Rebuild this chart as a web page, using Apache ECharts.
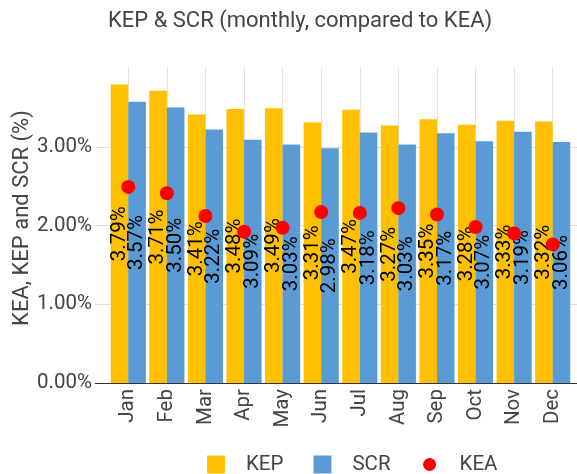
<!DOCTYPE html>
<html>
<head>
<meta charset="utf-8">
<script src="https://cdn.jsdelivr.net/npm/echarts@6/dist/echarts.min.js"></script>
<style>
  html, body { margin: 0; padding: 0; background: #fff; }
  #chart { width: 577px; height: 474px; }
</style>
</head>
<body>
<div id="chart"></div>
<script>
var months = ['Jan', 'Feb', 'Mar', 'Apr', 'May', 'Jun', 'Jul', 'Aug', 'Sep', 'Oct', 'Nov', 'Dec']
var kep = [3.79, 3.71, 3.41, 3.48, 3.49, 3.31, 3.47, 3.27, 3.35, 3.28, 3.33, 3.32]
var scr = [3.57, 3.50, 3.22, 3.09, 3.03, 2.98, 3.18, 3.03, 3.17, 3.07, 3.19, 3.06]
var kea = [2.49, 2.41, 2.12, 1.92, 1.97, 2.17, 2.16, 2.22, 2.14, 1.98, 1.90, 1.76]

var font = 'Roboto'
var yMax = 4

// half-step slots so the vertical grid lines land on the month centres
var slots = []
for (var i = 0; i <= months.length * 2; i++) slots.push('')

var chart = echarts.init(document.getElementById('chart'))

function pct(v) {
  return v.toFixed(2) + '%'
}

var barLabel = {
  show: true,
  position: 'inside',
  rotate: 90,
  color: '#000',
  fontFamily: font,
  fontSize: 20.5,
  formatter: function (p) { return pct(p.value) }
}

chart.setOption({
  animation: false,
  textStyle: {fontFamily: font},
  title: {
    text: 'KEP & SCR (monthly, compared to KEA)',
    left: 103,
    top: 5,
    textStyle: {fontFamily: font, fontSize: 22, fontWeight: 'normal', color: '#444'}
  },
  graphic: [{
    type: 'text',
    x: 22,
    y: 218,
    rotation: Math.PI / 2,
    style: {
      text: 'KEA, KEP and SCR (%)',
      font: '22px Roboto',
      fill: '#444',
      textAlign: 'center',
      textVerticalAlign: 'middle'
    }
  }],
  legend: {
    left: 202,
    top: 449,
    itemWidth: 18,
    itemHeight: 18,
    itemGap: 30,
    textStyle: {fontFamily: font, fontSize: 20.5, color: '#444', padding: [0, 0, 0, 16]},
    data: [
      {name: 'KEP', icon: 'rect'},
      {name: 'SCR', icon: 'rect'},
      {name: 'KEA', icon: 'path://M0,0M18,18M9,2.5a6.5,6.5,0,1,0,0.01,0z'}
    ]
  },
  grid: [
    {left: 95, right: 0, top: 68, bottom: 91},
    {left: 109, right: 5, top: 68, bottom: 91}
  ],
  xAxis: [{
    gridIndex: 0,
    type: 'value',
    min: 0,
    max: 1,
    axisLine: {show: true, lineStyle: {color: '#333', width: 1}},
    axisTick: {show: false},
    axisLabel: {show: false},
    splitLine: {show: false}
  }, {
    gridIndex: 1,
    type: 'category',
    data: months,
    axisLine: {show: false},
    axisTick: {show: false},
    axisLabel: {rotate: 90, margin: 6, fontFamily: font, fontSize: 20.5, color: '#444'},
    splitLine: {show: false}
  }, {
    gridIndex: 1,
    type: 'category',
    data: slots,
    boundaryGap: false,
    axisLine: {show: false},
    axisTick: {show: false},
    axisLabel: {show: false},
    splitLine: {
      show: true,
      interval: function (idx) { return idx % 2 === 1 },
      lineStyle: {color: '#e2e2e2'}
    }
  }],
  yAxis: [{
    gridIndex: 0,
    type: 'value',
    min: 0,
    max: yMax,
    interval: 1,
    axisLine: {show: false},
    axisTick: {show: false},
    axisLabel: {
      margin: 3,
      showMaxLabel: false,
      fontFamily: font,
      fontSize: 20.5,
      color: '#444',
      formatter: function (v) { return pct(v) }
    },
    splitLine: {show: true, showMaxLine: false, lineStyle: {color: '#ddd'}}
  }, {
    gridIndex: 1,
    type: 'value',
    min: 0,
    max: yMax,
    show: false
  }],
  series: [{
    name: 'KEP',
    type: 'bar',
    xAxisIndex: 1,
    yAxisIndex: 1,
    data: kep,
    barGap: '0%',
    barCategoryGap: '9%',
    itemStyle: {color: '#FFC000'},
    label: barLabel
  }, {
    name: 'SCR',
    type: 'bar',
    xAxisIndex: 1,
    yAxisIndex: 1,
    data: scr,
    itemStyle: {color: '#5B9BD5'},
    label: barLabel
  }, {
    name: 'KEA',
    type: 'scatter',
    xAxisIndex: 1,
    yAxisIndex: 1,
    data: kea,
    symbolSize: 14,
    z: 5,
    itemStyle: {color: '#FF0000', opacity: 1}
  }]
})
</script>
</body>
</html>
